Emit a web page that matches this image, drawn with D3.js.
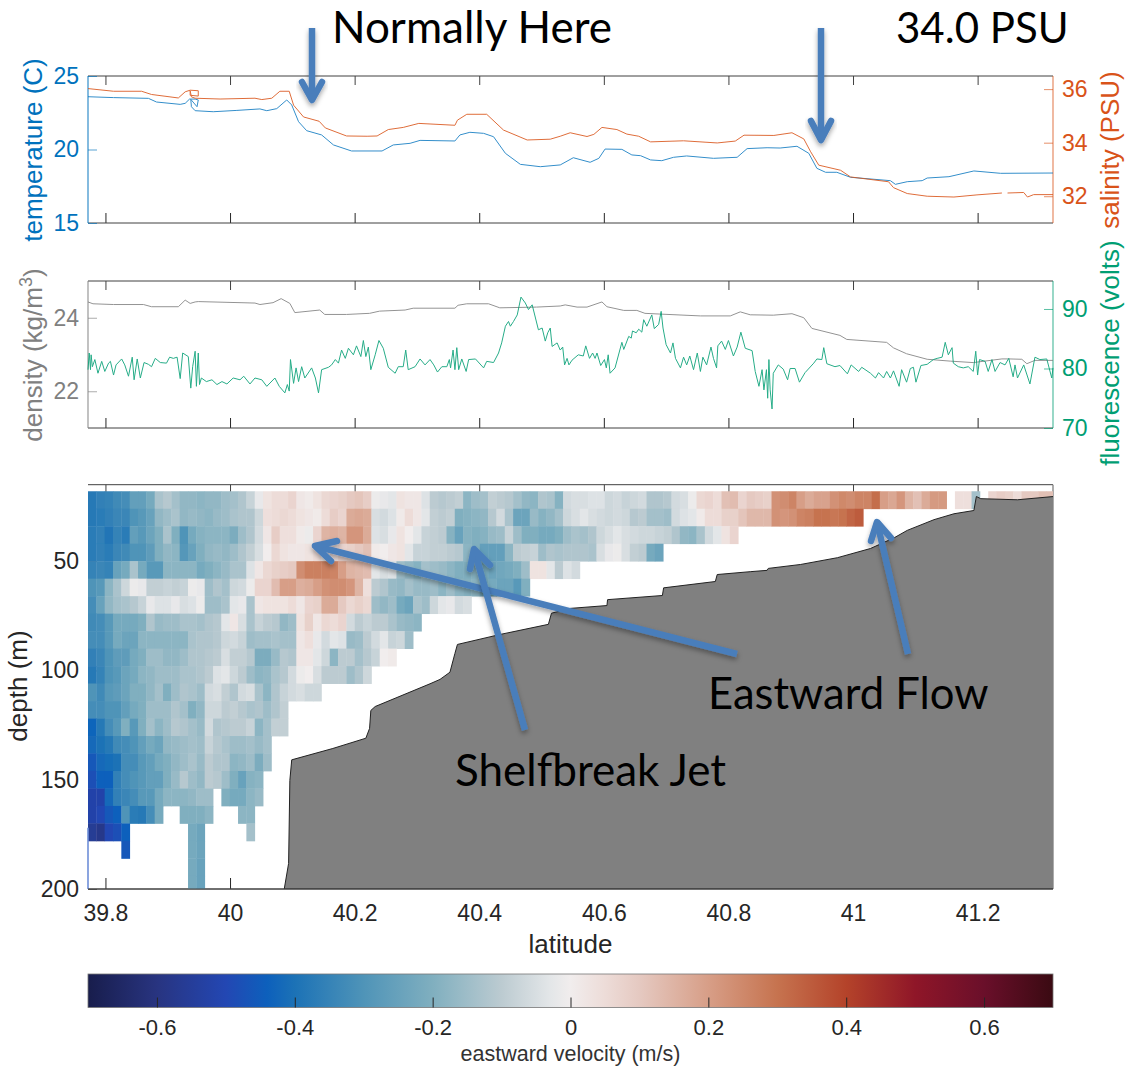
<!DOCTYPE html>
<html><head><meta charset="utf-8">
<style>
html,body{margin:0;padding:0;background:#fff}
svg{display:block}
text{font-family:"Liberation Sans",Arial,sans-serif}
.note{font-family:Lato,"Open Sans",sans-serif;fill:#000}
</style>
<script src="https://cdn.jsdelivr.net/npm/d3@7"></script>
</head><body><svg id="c" width="1126" height="1070"></svg>
<script>
const latTicks=[39.8,40,40.2,40.4,40.6,40.8,41,41.2];
const tempTicks=[15,20,25], salTicks=[32,34,36], densTicks=[22,24], fluorTicks=[70,80,90];
const depthTicks=[50,100,150,200], velTicks=[-0.6,-0.4,-0.2,0,0.2,0.4,0.6];

const tempLat=[39.772,39.813,39.869,39.882,39.920,39.928,39.935,39.944,39.949,39.947,39.937,39.938,39.944,39.973,40.011,40.048,40.059,40.075,40.091,40.099,40.110,40.123,40.147,40.166,40.195,40.244,40.262,40.289,40.305,40.361,40.369,40.385,40.407,40.423,40.442,40.466,40.498,40.530,40.551,40.578,40.592,40.602,40.629,40.645,40.659,40.675,40.693,40.712,40.733,40.776,40.814,40.830,40.862,40.883,40.910,40.929,40.942,40.956,40.974,40.996,41.060,41.068,41.087,41.111,41.119,41.154,41.194,41.237,41.321];
const tempVal=[23.59,23.53,23.48,23.23,23.07,23.14,23.43,23.43,23.37,22.91,23.41,22.91,22.64,22.57,22.66,22.76,22.64,22.78,23.37,23.03,21.89,21.28,20.99,20.31,19.90,19.90,20.31,20.42,20.62,20.58,20.99,21.17,21.10,20.87,19.74,18.99,18.83,18.95,19.44,19.13,19.40,20.03,20.01,19.63,19.58,19.29,19.24,19.47,19.56,19.40,19.47,20.06,20.12,20.10,20.22,19.74,18.72,18.45,18.45,18.11,17.88,17.63,17.81,17.88,18.06,18.15,18.54,18.38,18.40];
const salLat=[39.772,39.813,39.858,39.874,39.917,39.928,39.936,39.949,39.949,39.936,39.936,39.938,39.944,39.984,40.040,40.051,40.067,40.080,40.095,40.102,40.118,40.143,40.153,40.187,40.220,40.236,40.254,40.278,40.303,40.361,40.365,40.380,40.412,40.439,40.477,40.514,40.530,40.546,40.573,40.584,40.597,40.621,40.637,40.656,40.675,40.728,40.782,40.811,40.825,40.873,40.902,40.921,40.932,40.945,40.980,40.996,41.057,41.065,41.087,41.119,41.162,41.199,41.239,41.244,41.248,41.274,41.280,41.290,41.321];
const salVal=[36.02,35.92,35.92,35.80,35.67,35.90,35.96,35.94,35.74,35.77,35.94,35.71,35.66,35.63,35.66,35.61,35.66,35.92,35.92,35.40,34.96,34.80,34.55,34.25,34.24,34.25,34.49,34.57,34.72,34.65,34.84,35.06,35.06,34.47,34.10,34.13,34.24,34.37,34.23,34.31,34.57,34.49,34.32,34.24,34.03,34.07,33.99,34.06,34.28,34.27,34.37,34.14,33.66,33.16,32.97,32.72,32.54,32.32,32.10,32.00,31.97,32.05,32.12,null,32.12,32.14,31.97,32.06,32.06];
const densLat=[39.772,39.780,39.813,39.861,39.874,39.917,39.928,39.936,39.944,39.949,40.040,40.048,40.069,40.082,40.096,40.104,40.144,40.152,40.187,40.224,40.240,40.281,40.294,40.361,40.366,40.380,40.415,40.433,40.492,40.530,40.538,40.557,40.573,40.597,40.605,40.632,40.653,40.666,40.690,40.755,40.803,40.819,40.835,40.872,40.902,40.921,40.934,40.979,40.990,41.054,41.065,41.086,41.119,41.156,41.193,41.239,41.250,41.271,41.279,41.292,41.321];
const densVal=[24.43,24.38,24.36,24.36,24.30,24.30,24.48,24.39,24.43,24.44,24.40,24.36,24.41,24.52,24.39,24.14,24.21,24.09,24.09,24.12,24.18,24.21,24.26,24.26,24.34,24.38,24.38,24.27,24.29,24.32,24.35,24.29,24.29,24.43,24.30,24.20,24.20,24.12,24.10,24.05,24.05,24.16,24.08,24.07,24.11,24.00,23.71,23.52,23.41,23.33,23.18,23.02,22.87,22.82,22.78,22.88,22.88,22.87,22.75,22.84,22.84];
const fluorLat=[39.772,39.774,39.776,39.777,39.779,39.783,39.788,39.794,39.799,39.805,39.808,39.813,39.817,39.826,39.831,39.837,39.843,39.846,39.851,39.856,39.862,39.869,39.874,39.880,39.888,39.898,39.903,39.909,39.915,39.920,39.924,39.933,39.937,39.940,39.944,39.946,39.949,39.951,39.954,39.962,39.971,39.979,39.987,39.995,40.005,40.016,40.022,40.032,40.040,40.051,40.059,40.072,40.079,40.088,40.092,40.095,40.097,40.102,40.106,40.110,40.115,40.120,40.131,40.137,40.142,40.147,40.158,40.163,40.169,40.174,40.179,40.185,40.190,40.198,40.203,40.210,40.214,40.218,40.222,40.226,40.233,40.239,40.246,40.254,40.265,40.270,40.278,40.282,40.286,40.297,40.305,40.313,40.321,40.327,40.333,40.340,40.348,40.352,40.354,40.358,40.361,40.364,40.367,40.372,40.379,40.383,40.394,40.407,40.412,40.423,40.431,40.436,40.442,40.447,40.450,40.455,40.461,40.467,40.474,40.479,40.485,40.495,40.501,40.506,40.510,40.514,40.517,40.525,40.530,40.534,40.537,40.541,40.544,40.549,40.559,40.567,40.571,40.577,40.582,40.586,40.589,40.595,40.601,40.604,40.607,40.610,40.618,40.629,40.632,40.640,40.644,40.646,40.652,40.656,40.661,40.664,40.669,40.677,40.681,40.688,40.692,40.695,40.700,40.707,40.711,40.715,40.723,40.728,40.733,40.738,40.744,40.750,40.755,40.759,40.765,40.772,40.776,40.781,40.783,40.789,40.795,40.800,40.808,40.814,40.820,40.827,40.838,40.843,40.849,40.854,40.857,40.861,40.863,40.865,40.867,40.870,40.872,40.880,40.888,40.895,40.899,40.907,40.914,40.923,40.937,40.942,40.950,40.953,40.958,40.971,40.979,40.991,40.997,41.009,41.014,41.028,41.036,41.041,41.049,41.054,41.060,41.065,41.074,41.078,41.086,41.092,41.097,41.101,41.109,41.119,41.129,41.135,41.143,41.148,41.153,41.159,41.161,41.169,41.177,41.185,41.193,41.197,41.200,41.203,41.212,41.217,41.223,41.228,41.236,41.244,41.250,41.257,41.260,41.264,41.274,41.284,41.292,41.300,41.311,41.319,41.321];
const fluorVal=[79.8,82.6,79.8,82.3,80.3,81.5,79.2,81.2,79.5,80.9,81.2,78.9,80.6,81.6,80.6,78.7,81.9,78.1,81.6,78.4,81.0,80.7,80.3,81.7,81.0,80.9,81.9,81.7,81.9,78.3,82.6,82.0,76.7,80.3,82.9,77.0,82.6,77.3,78.4,77.8,78.1,77.3,77.8,77.4,78.4,78.1,78.7,77.4,78.4,78.1,77.0,78.4,77.0,75.9,77.3,76.2,81.5,77.5,80.1,77.8,80.3,78.4,80.1,78.4,75.9,79.8,80.2,80.6,81.5,80.9,83.1,81.7,83.4,82.3,83.8,82.0,84.7,82.0,83.6,79.8,82.3,84.7,83.4,80.2,79.2,80.3,80.3,83.1,79.8,80.3,81.6,80.6,81.5,80.6,79.4,80.3,80.3,81.5,80.1,83.1,79.8,83.5,79.8,81.6,79.5,81.5,81.6,80.1,81.2,81.0,82.6,84.3,87.1,87.9,87.1,87.9,89.0,92.0,91.0,89.9,90.7,86.5,86.8,84.6,86.0,86.8,83.7,84.3,83.1,83.6,80.6,81.7,80.6,81.4,82.3,82.1,83.8,81.7,82.6,81.7,82.6,80.5,81.5,80.1,82.3,79.2,80.1,84.4,83.2,85.4,85.1,86.3,86.0,86.6,86.1,88.2,87.1,89.0,86.7,87.4,89.6,86.8,84.0,82.6,84.3,81.7,80.1,81.9,80.6,82.1,79.8,82.6,79.5,81.9,80.6,83.6,81.7,80.1,83.8,84.6,83.2,84.7,82.1,83.6,86.1,83.4,83.0,79.5,77.0,79.8,76.4,79.8,75.0,81.5,76.4,73.2,79.2,80.6,79.9,78.1,80.0,80.0,77.7,79.3,80.9,81.6,81.5,83.5,80.8,80.3,80.5,79.1,80.6,79.5,80.2,79.2,78.4,79.3,78.4,79.5,78.4,79.6,77.0,79.8,77.7,80.0,80.2,77.7,80.5,80.7,81.5,81.7,81.9,84.4,82.3,83.5,80.9,80.3,80.1,80.3,79.5,82.9,78.9,81.5,81.2,79.5,81.5,79.5,81.0,80.6,81.7,78.6,80.6,78.4,80.6,77.4,81.9,81.5,81.6,78.4,80.1];

const bathyLat=[40.087,40.094,40.096,40.099,40.165,40.218,40.224,40.226,40.233,40.321,40.337,40.353,40.361,40.365,40.434,40.511,40.516,40.546,40.605,40.606,40.694,40.696,40.779,40.782,40.835,40.862,40.864,40.916,40.975,41.028,41.066,41.087,41.130,41.162,41.194,41.198,41.205,41.264,41.322];
const bathyDepth=[200,188.3,150.3,140.9,135.7,131.0,126.5,118.3,116.5,106.1,104.1,100.8,92.2,88.1,83.5,78.9,73.8,71.6,70.3,67.6,65.7,62.2,59.3,56.1,54.8,54.2,53.3,51.5,48.4,44.2,39.3,35.9,31.0,28.3,26.8,20.4,21.4,21.9,20.4];

// eastward velocity in cm/s; each row is one 8 m depth bin, each entry one latitude bin
const velRows=[
[-38,-36,-35,-33,-32,-26,-26,-22,-13,-11,-14,-17,-17,-18,-17,-17,-15,-14,-12,-8,-2,3,5,5,7,2,1,3,6,7,8,10,11,9,-1,-2,-3,3,2,2,-4,-10,-11,-10,-9,-18,-15,-14,-9,-10,-11,-14,-17,-18,-12,-13,-19,-6,-5,-5,-4,-4,-7,-6,-8,-7,-6,-12,-12,-11,-6,-5,-1,6,7,5,12,13,7,10,9,8,23,24,26,20,17,19,19,23,25,24,26,26,31,20,18,22,15,12,17,21,21,null,4,4,-14,null,7,9,8,5,10,10,12,12],
[-38,-37,-36,-34,-34,-30,-28,-25,-17,-15,-13,-17,-16,-17,-18,-16,-15,-13,-12,-12,-7,4,5,6,5,3,2,1,5,9,7,17,18,17,-5,-6,-4,1,5,2,-3,-9,-10,-9,-20,-19,-18,-17,-11,-6,-13,-24,-24,-16,-19,-17,-14,-7,-5,-3,-5,-6,-7,-6,-7,-11,-10,-14,-14,-15,-6,-4,-3,1,5,5,8,8,11,14,14,14,23,22,23,26,27,30,30,29,30,33,35],
[-37,-36,-39,-35,-37,-26,-28,-24,-20,-13,-20,-30,-22,-19,-18,-18,-18,-21,-15,-12,-6,2,9,4,4,1,-1,7,15,16,15,22,22,17,-4,-5,-2,3,0,-3,-8,-9,-10,-19,-25,-19,-20,-19,-16,-15,-8,-15,-20,-20,-22,-22,-20,-15,-13,-14,-12,-7,-5,-3,-5,-6,-7,-7,-8,-9,-12,-17,-18,-13,-6,-3,3,7],
[-37,-36,-37,-34,-33,-30,-30,-27,-20,-17,-18,-29,-25,-20,-17,-16,-17,-15,-12,-9,-5,0,6,3,2,2,3,5,1,4,7,8,10,12,1,0,2,3,-3,-8,-8,-9,-9,-10,-11,-18,-20,-26,-26,-26,-18,-10,-9,-8,-15,-12,-13,-12,-12,-12,-13,-5,-2,-1,-5,-9,-10,-22,-24],
[-35,-34,-35,-25,-22,-13,-22,-28,-28,-18,-18,-18,-18,-22,-20,-18,-16,-13,-13,-4,2,6,8,9,10,24,27,27,27,26,20,15,14,13,-3,-5,-4,-15,-17,-19,-14,-15,-16,-18,-20,-20,-19,-22,-24,-23,-22,-20,-15,3,3,-3,-10,-4,-6],
[-30,-28,-18,-13,-7,-1,-2,-9,-9,-8,-9,-8,-1,-2,-15,-12,-14,-7,-6,-1,7,7,13,20,20,16,17,20,23,24,24,22,15,4,-10,-12,-16,-17,-14,-16,-16,-15,-18,-15,-18,-19,-18,-22,-22,-24,-24,-28,-20],
[-32,-25,-17,-14,-13,-11,-8,-2,-4,-4,-2,-5,-4,-1,-15,-15,-13,-3,-2,-13,2,3,3,3,5,2,7,8,17,17,10,6,8,6,-15,-17,-15,-22,-24,-13,-15,-7,-3,-2,-6,-5],
[-33,-32,-28,-22,-22,-22,-20,-12,-16,-15,-15,-13,-13,-14,-12,-11,-3,2,-5,-13,-8,-10,-11,-17,-15,3,8,2,6,5,7,-6,-10,-8,-10,-10,-13,-16,-17,-18],
[-32,-32,-28,-22,-24,-24,-18,-18,-18,-18,-18,-18,-13,-12,-12,-11,-7,-6,-8,-15,-14,-14,-13,-14,-14,2,4,-2,-6,-3,-4,-16,-15,-10,-6,-3,-8,-7,-15],
[-36,-34,-30,-27,-27,-22,-20,-15,-15,-17,-17,-15,-12,-12,-11,-10,-5,-9,-9,-11,-21,-21,-16,-11,-12,2,2,-3,-7,-18,-10,-10,-14,-11,-8,0,1],
[-38,-35,-30,-28,-24,-22,-18,-17,-15,-15,-15,-13,-13,-12,-10,-4,-3,-7,-10,-15,-18,-17,-13,-11,-6,-1,0,-5,-10,-10,-10,-15,-12,-7],
[-30,-33,-28,-27,-24,-20,-20,-17,-14,-20,-15,-12,-13,-15,-6,-5,-9,-12,-6,-5,-13,-18,-12,-8,-6,-5,-7,-7],
[-32,-32,-30,-30,-26,-22,-20,-15,-15,-15,-12,-14,-20,-17,-7,-7,-10,-9,-11,-13,-12,-15,-12,-9],
[-43,-38,-32,-28,-20,-28,-20,-14,-18,-15,-11,-12,-14,-16,-6,-12,-11,-10,-10,-8,-18,-14,-9,-9],
[-42,-40,-38,-33,-32,-30,-26,-22,-24,-17,-16,-15,-14,-15,-8,-11,-13,-15,-15,-14,-16,-14],
[-46,-42,-41,-40,-32,-32,-28,-26,-22,-20,-17,-15,-13,-16,-10,-12,-12,-18,-17,-15,-21,-15],
[-48,-44,-44,-36,-32,-30,-28,-26,-26,-20,-16,-11,-15,-17,-10,-11,-15,-20,-25,-19,-18],
[-52,-52,-42,-36,-34,-32,-28,-28,-22,-18,-18,-18,-17,-15,-15,null,-20,-22,-22,-18,-16],
[-52,-50,-46,-44,-30,-37,-38,-32,-22,null,null,-20,-20,-20,-18,null,null,null,-18,-18],
[-56,-58,-50,-48,-44,null,null,null,null,null,null,null,-22,-24,null,null,null,null,null,-14],
[null,null,null,null,-46,null,null,null,null,null,null,null,-22,-24],
[null,null,null,null,null,null,null,null,null,null,null,null,-22,-25],
[null,null,null,null,null,null,null,null,null,null,null,null,-22,-25]
];
const firstVelLat=39.772, velLatStep=0.01338, firstVelDepth=22, velDepthStep=8;

const colorPos=[-0.7,-0.6,-0.5,-0.44,-0.4,-0.3,-0.2,-0.1,-0.03,0,0.05,0.1,0.2,0.3,0.4,0.5,0.6,0.7];
const colorHex=["#181d4c","#283480","#2347b3","#0d60bc","#1c72b6","#4f94b8","#80afbf","#bccbd1","#e3e6e8","#f1eded","#eddcd8","#e5c9c1","#d79e87","#c6734f","#b4432a","#8f1628","#6a0f2a","#3a0a12"];

const X0=88,X1=1053;
const svg=d3.select("#c");
const lat=d3.scaleLinear().domain([39.772,41.321]).range([X0,X1]);
const DARK="#404040", TXT="#262626";
const BLUE="#0072BD",ORANGE="#D95319",GREEN="#009E73",GRAY="#808080";
const TICK_FONT=23, LABEL_FONT=26;
const defs=svg.append("defs");
const shadow=defs.append("filter").attr("id","sh").attr("x","-30%").attr("y","-30%").attr("width","160%").attr("height","160%");
shadow.append("feDropShadow").attr("dx",0).attr("dy",3).attr("stdDeviation",2.5).attr("flood-color","#000").attr("flood-opacity",0.35);
const soft=defs.append("filter").attr("id","soft").attr("x","-2%").attr("y","-2%").attr("width","104%").attr("height","104%");
soft.append("feGaussianBlur").attr("stdDeviation",0.6);
const softLine=defs.append("filter").attr("id","softLine").attr("x","-2%").attr("y","-10%").attr("width","104%").attr("height","120%");
softLine.append("feGaussianBlur").attr("stdDeviation",0.3);

function styleAxis(g,color,size){
  g.selectAll(".domain").remove();
  g.selectAll("line").attr("stroke",color);
  g.selectAll("text").attr("fill",color).attr("font-size",size).attr("font-family",'"Liberation Sans",Arial,sans-serif');
}
function xAxes(top,bottom,topLen,botLen,withLabels){
  const a=d3.axisTop(lat).tickValues(latTicks).tickSize(-topLen).tickFormat("");
  svg.append("g").attr("transform",`translate(0,${top})`).call(a).call(styleAxis,DARK,0);
  const b=d3.axisBottom(lat).tickValues(latTicks).tickSize(-botLen).tickPadding(withLabels?15.7:0).tickFormat(withLabels?(d=>String(d)):"");
  svg.append("g").attr("transform",`translate(0,${bottom})`).call(b).call(styleAxis,TXT,TICK_FONT);
}
function hframe(top,bottom){
  [top,bottom].forEach(y=>svg.append("line").attr("x1",X0).attr("x2",X1).attr("y1",y).attr("y2",y).attr("stroke",DARK));
}
function vframe(top,bottom,lc,rc){
  svg.append("line").attr("x1",X0).attr("x2",X0).attr("y1",top).attr("y2",bottom).attr("stroke",lc).attr("stroke-width",1.6).attr("opacity",.6);
  svg.append("line").attr("x1",X1).attr("x2",X1).attr("y1",top).attr("y2",bottom).attr("stroke",rc).attr("stroke-width",1.6).attr("opacity",.5);
}
function yAxis(scale,vals,side,color,tickLen){
  const ax=(side==="l"?d3.axisLeft(scale):d3.axisRight(scale)).tickValues(vals).tickSize(-tickLen).tickPadding(9).tickFormat(d=>String(d));
  const g=svg.append("g").attr("transform",`translate(${side==="l"?X0:X1},0)`).call(ax).call(styleAxis,color,TICK_FONT);
  g.selectAll("line").attr("opacity",.65);
}
function yLabel(text,x,y,color){
  return svg.append("text").attr("transform",`translate(${x},${y}) rotate(-90)`).attr("text-anchor","middle").attr("fill",color).attr("font-size",LABEL_FONT).text(text);
}
function line(xs,ys,xScale,yScale,color,w,op){
  const pts=xs.map((d,i)=>[d,ys[i]]);
  svg.append("path").attr("fill","none").attr("stroke",color).attr("stroke-width",w).attr("opacity",op).attr("stroke-linejoin","round").attr("filter","url(#softLine)")
    .attr("d",d3.line().defined(d=>d[1]!==null).x(d=>xScale(d[0])).y(d=>yScale(d[1]))(pts));
}

// panel 1
const yTemp=d3.scaleLinear().domain([15,25]).range([223,76]);
const ySal=d3.scaleLinear().domain([31,36.49]).range([223,76]);
xAxes(76,223,9,10,false);
hframe(76,223); vframe(76,223,BLUE,ORANGE);
yAxis(yTemp,tempTicks,"l",BLUE,9);
yAxis(ySal,salTicks,"r",ORANGE,9);
line(tempLat,tempVal,lat,yTemp,BLUE,1,.8);
line(salLat,salVal,lat,ySal,ORANGE,1,.85);
yLabel("temperature (C)",42,150,BLUE);
yLabel("salinity (PSU)",1119,150,ORANGE);

// panel 2
const yDens=d3.scaleLinear().domain([21,25]).range([428,281]);
const yFluor=d3.scaleLinear().domain([70,94.7]).range([428,281]);
xAxes(281,428,9,10,false);
hframe(281,428); vframe(281,428,GRAY,GREEN);
yAxis(yDens,densTicks,"l",GRAY,9);
yAxis(yFluor,fluorTicks,"r",GREEN,9);
line(densLat,densVal,lat,yDens,GRAY,1,.85);
line(fluorLat,fluorVal,lat,yFluor,GREEN,1,.85);
const dl=svg.append("text").attr("transform","translate(42,355) rotate(-90)").attr("text-anchor","middle").attr("fill",GRAY).attr("font-size",LABEL_FONT);
dl.append("tspan").text("density (kg/m");
dl.append("tspan").attr("dy",-10).attr("font-size",18).text("3");
dl.append("tspan").attr("dy",10).text(")");
yLabel("fluorescence (volts)",1119,353,GREEN);

// panel 3
const yDepth=d3.scaleLinear().domain([15,200]).range([484.7,889]);
const velColor=d3.scaleLinear().domain(colorPos).range(colorHex).clamp(true);
xAxes(484.7,889,9,11,true);
yAxis(yDepth,depthTicks,"l",TXT,9);
hframe(484.7,889);
svg.append("line").attr("x1",X1).attr("x2",X1).attr("y1",484.7).attr("y2",889).attr("stroke","#888").attr("stroke-width",1.4);
const cells=velRows.flatMap((row,r)=>row.map((v,c)=>({v,r,c}))).filter(d=>d.v!==null);
svg.append("clipPath").attr("id","pc").append("rect").attr("x",X0).attr("y",484.7).attr("width",X1-X0).attr("height",889-484.7);
svg.append("g").attr("clip-path","url(#pc)").append("g").attr("filter","url(#soft)").selectAll("rect").data(cells).join("rect")
  .attr("x",d=>lat(firstVelLat+d.c*velLatStep))
  .attr("width",d=>lat(firstVelLat+(d.c+1)*velLatStep)-lat(firstVelLat+d.c*velLatStep)+0.4)
  .attr("y",d=>yDepth(firstVelDepth+d.r*velDepthStep-velDepthStep/2))
  .attr("height",d=>yDepth(firstVelDepth+velDepthStep)-yDepth(firstVelDepth)+0.4)
  .attr("fill",d=>velColor(d.v/100));
const bathyPts=bathyLat.map((d,i)=>[d,bathyDepth[i]]).concat([[41.322,200]]);
svg.append("path").attr("fill","#808080").attr("stroke","#222").attr("stroke-width",1).attr("stroke-linejoin","round")
  .attr("d",d3.line().x(d=>lat(d[0])).y(d=>yDepth(d[1]))(bathyPts)+"Z").attr("clip-path","url(#pc)");
svg.append("line").attr("x1",X0).attr("x2",X0).attr("y1",yDepth(172)).attr("y2",889).attr("stroke","#6f8fd8").attr("stroke-width",1.6);
svg.append("line").attr("x1",X0).attr("x2",X1).attr("y1",889).attr("y2",889).attr("stroke",DARK);
yLabel("depth (m)",27,686,TXT);
svg.append("text").attr("x",570.5).attr("y",953).attr("text-anchor","middle").attr("fill",TXT).attr("font-size",LABEL_FONT).text("latitude");

// colour bar
const vel=d3.scaleLinear().domain([-0.7,0.7]).range([X0,X1]);
const grad=defs.append("linearGradient").attr("id","cb").attr("x1","0").attr("x2","1").attr("y1","0").attr("y2","0");
colorPos.forEach((p,i)=>grad.append("stop").attr("offset",(p+0.7)/1.4).attr("stop-color",colorHex[i]));
svg.append("rect").attr("x",X0).attr("y",974).attr("width",X1-X0).attr("height",33.5).attr("fill","url(#cb)").attr("stroke","#777").attr("stroke-width",.8);
const cbAxis=d3.axisBottom(vel).tickValues(velTicks).tickSize(-10).tickPadding(12).tickFormat(d=>String(d));
svg.append("g").attr("transform","translate(0,1007.5)").call(cbAxis).call(styleAxis,TXT,22);
svg.append("text").attr("x",570.5).attr("y",1061).attr("text-anchor","middle").attr("fill","#333").attr("font-size",21.5).text("eastward velocity (m/s)");

// annotations
const ARROW="#4a7ebb";
function arrow(x1,y1,x2,y2,a,b,c,d){
  const g=svg.append("g").attr("filter","url(#sh)").attr("fill","none").attr("stroke",ARROW).attr("stroke-width",6.5).attr("stroke-linejoin","round").attr("stroke-linecap","round");
  g.append("path").attr("stroke-linecap","butt").attr("d",`M${x1},${y1}L${x2},${y2}`);
  g.append("path").attr("d",`M${a},${b}L${x2},${y2}L${c},${d}`);
}
arrow(312,28,312,100,302,82,322,82);
arrow(821,28,821,140,811,121,831,121);
arrow(737,654,315,546,337,541,331,561);
arrow(525,730,474,549,470,569,490,565);
arrow(908,654,877,522,871,541,891,538);
[["Normally Here",332,43,44],["34.0 PSU",896,43,42],["Shelfbreak Jet",455,786,44],["Eastward Flow",708,709,43.6]].forEach(t=>{
  svg.append("text").attr("class","note").attr("x",t[1]).attr("y",t[2]).attr("font-size",t[3]).text(t[0]);
});
</script></body></html>
